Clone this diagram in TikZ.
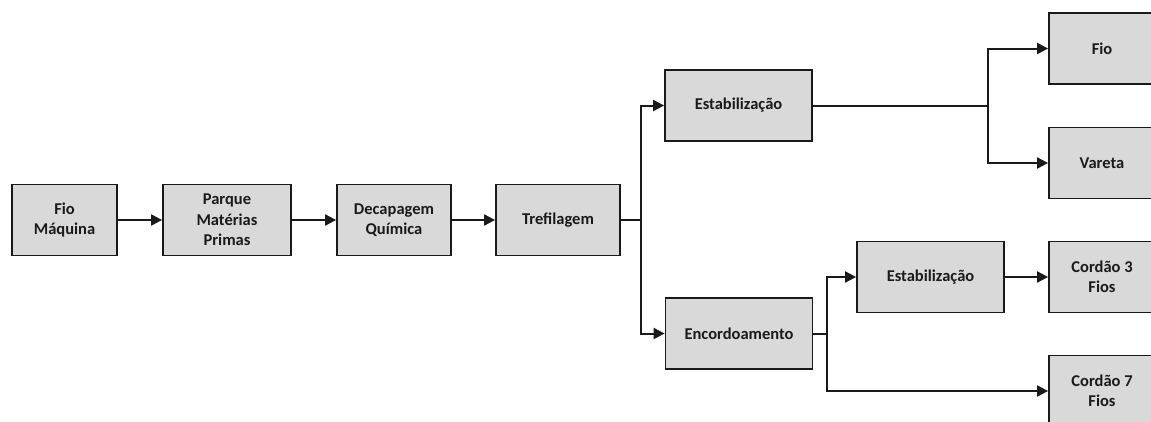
\documentclass[tikz,border=0pt]{standalone}
\usepackage{fontspec}
\setmainfont{Carlito}
\usetikzlibrary{arrows.meta}
\definecolor{boxfill}{HTML}{D9D9D9}
\definecolor{ink}{HTML}{1A1A1A}
\tikzset{
  blk/.style={draw=ink, fill=boxfill, line width=1.8pt, minimum height=71pt,
    inner sep=2pt, align=center, text=ink,
    font=\fontsize{16.5}{20.5}\selectfont\bfseries},
  conn/.style={draw=ink, line width=2pt},
  arr/.style={conn, -{Triangle[length=11pt,width=11pt]}}
}
\begin{document}
\begin{tikzpicture}[x=1pt,y=-1pt]
\useasboundingbox (0,0) rectangle (1151,421);
\clip (0,0) rectangle (1151,421);
\node[blk, minimum width=105pt] (fm) at (64.5,220) {Fio\\Máquina};
\node[blk, minimum width=128pt] (pmp) at (227,220) {Parque\\Matérias\\Primas};
\node[blk, minimum width=114pt] (dq) at (394,220) {Decapagem\\Química};
\node[blk, minimum width=124pt] (tre) at (558,220) {Trefilagem};
\node[blk, minimum width=147pt] (est1) at (738.5,105.5) {Estabilização};
\node[blk, minimum width=147pt] (enc) at (739,333.5) {Encordoamento};
\node[blk, minimum width=147pt] (est2) at (930.5,277) {Estabilização};
\node[blk, minimum width=106pt] (fio) at (1102,48.5) {Fio};
\node[blk, minimum width=106pt] (var) at (1102,163) {Vareta};
\node[blk, minimum width=106pt] (c3) at (1102,277) {Cordão 3\\Fios};
\node[blk, minimum width=106pt] (c7) at (1102,391) {Cordão 7\\Fios};
\coordinate (j1) at (641,220);
\coordinate (j2) at (988,105.5);
\coordinate (j3) at (826.5,333.5);
\draw[arr] (fm) -- (pmp);
\draw[arr] (pmp) -- (dq);
\draw[arr] (dq) -- (tre);
\draw[conn] (tre.east) -- (j1);
\draw[arr] (j1) |- (est1.west);
\draw[arr] (j1) |- (enc.west);
\draw[conn] (est1.east) -- (j2);
\draw[arr] (j2) |- (fio.west);
\draw[arr] (j2) |- (var.west);
\draw[conn] (enc.east) -- (j3);
\draw[arr] (j3) |- (est2.west);
\draw[arr] (j3) |- (c7.west);
\draw[arr] (est2) -- (c3);
\end{tikzpicture}
\end{document}
